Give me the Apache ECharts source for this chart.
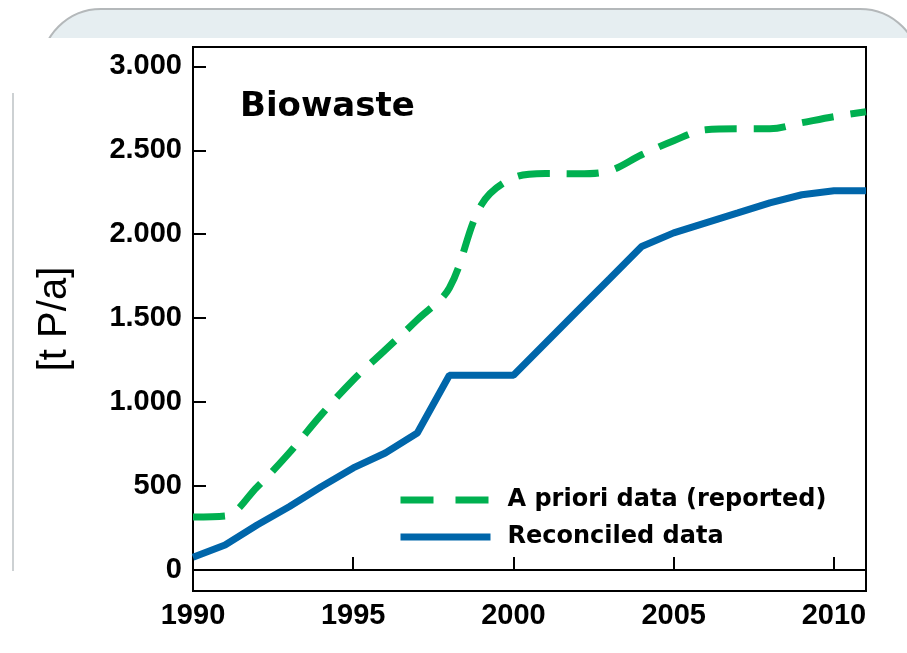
<!DOCTYPE html>
<html>
<head>
<meta charset="utf-8">
<script src="https://cdn.jsdelivr.net/npm/echarts@6/dist/echarts.min.js"></script>
<style>
  html, body { margin: 0; padding: 0; background: #fff; }
  #chart { width: 907px; height: 653px; }
</style>
</head>
<body>
<div id="chart"></div>
<script>
  // data
  var years = [1990, 1991, 1992, 1993, 1994, 1995, 1996, 1997, 1998, 1999, 2000,
               2001, 2002, 2003, 2004, 2005, 2006, 2007, 2008, 2009, 2010, 2011];
  var aPriori = [316, 322, 495, 697, 924, 1132, 1311, 1490, 1680, 2175, 2336,
                 2362, 2360, 2378, 2473, 2557, 2622, 2628, 2628, 2664, 2700, 2729];
  var reconciled = [76, 149, 268, 377, 496, 608, 697, 816, 1160, 1160, 1160,
                    1352, 1544, 1735, 1927, 2008, 2068, 2127, 2187, 2235, 2259, 2259];
  var yTicks = [0, 500, 1000, 1500, 2000, 2500, 3000];
  var xTicks = [1990, 1995, 2000, 2005, 2010];

  var seriesNames = ['A priori data (reported)', 'Reconciled data'];

  function pairs(vals) {
    var out = [];
    for (var i = 0; i < years.length; i++) {
      out.push([years[i], vals[i]]);
    }
    return out;
  }

  // 1000 -> "1.000"
  function dotted(v) {
    return String(v).replace(/\B(?=(\d{3})+(?!\d))/g, '.');
  }

  var chart = echarts.init(document.getElementById('chart'));

  var option = {
    animation: false,
    backgroundColor: '#fff',
    grid: {
      left: 193, right: 41, top: 47, bottom: 62,
      show: true,
      borderColor: '#000',
      borderWidth: 2,
      backgroundColor: 'transparent',
      outerBoundsMode: 'none'
    },
    // slide frame behind the chart
    graphic: [
      {
        type: 'rect', z: -10,
        shape: { x: 41, y: 9, width: 879, height: 400, r: 60 },
        style: { fill: '#e6eef1', stroke: '#b4b8ba', lineWidth: 2 }
      },
      {
        type: 'rect', z: -9,
        shape: { x: 0, y: 38, width: 907, height: 615 },
        style: { fill: '#fff' }
      },
      {
        type: 'line', z: -8,
        shape: { x1: 13, y1: 93, x2: 13, y2: 571 },
        style: { stroke: '#cdd1d3', lineWidth: 2 }
      },
      {
        type: 'text', z: 10,
        x: 240, y: 107,
        style: {
          text: 'Biowaste',
          fill: '#000',
          font: 'bold 34px "DejaVu Sans"',
          verticalAlign: 'middle'
        }
      }
    ],
    legend: {
      orient: 'vertical',
      left: 397,
      top: 488,
      padding: 0,
      itemWidth: 90,
      itemHeight: 14,
      itemGap: 13,
      itemStyle: { opacity: 0 },
      textStyle: {
        color: '#000',
        fontFamily: 'DejaVu Sans',
        fontWeight: 'bold',
        fontSize: 24,
        lineHeight: 24,
        padding: [0, 0, 0, 12]
      },
      data: [
        { name: seriesNames[0], lineStyle: { type: [33, 22], width: 7, color: '#00b050' } },
        { name: seriesNames[1], lineStyle: { width: 7, color: '#0066aa' } }
      ]
    },
    xAxis: {
      type: 'value',
      min: 1990,
      max: 2011,
      splitLine: { show: false },
      axisLine: { lineStyle: { color: '#000', width: 2 } },
      axisTick: {
        inside: true, length: 13,
        customValues: xTicks,
        lineStyle: { color: '#000', width: 2 }
      },
      axisLabel: {
        customValues: xTicks,
        margin: 10,
        color: '#000',
        fontFamily: 'Liberation Sans',
        fontWeight: 'bold',
        fontSize: 29,
        formatter: function (v) { return String(v); }
      }
    },
    yAxis: {
      type: 'value',
      min: -125,
      max: 3115,
      name: '[t P/a]',
      nameLocation: 'middle',
      nameGap: 118,
      nameRotate: 90,
      nameTextStyle: {
        color: '#000',
        fontFamily: 'Liberation Sans',
        fontSize: 40
      },
      splitLine: { show: false },
      axisLine: { show: true, lineStyle: { color: '#000', width: 2 } },
      axisTick: {
        show: true, inside: true, length: 13,
        customValues: yTicks,
        lineStyle: { color: '#000', width: 2 }
      },
      axisLabel: {
        customValues: yTicks,
        margin: 11,
        padding: [10, 0, 0, 0],
        color: '#000',
        fontFamily: 'Liberation Sans',
        fontWeight: 'bold',
        fontSize: 29,
        formatter: dotted
      }
    },
    series: [
      {
        name: seriesNames[0],
        type: 'line',
        smooth: 0.35,
        symbol: 'none',
        data: pairs(aPriori),
        lineStyle: { color: '#00b050', width: 7, type: [32, 17] },
        itemStyle: { color: '#00b050' }
      },
      {
        name: seriesNames[1],
        type: 'line',
        symbol: 'none',
        data: pairs(reconciled),
        lineStyle: { color: '#0066aa', width: 7 },
        itemStyle: { color: '#0066aa' }
      }
    ]
  };

  chart.setOption(option);
</script>
</body>
</html>
